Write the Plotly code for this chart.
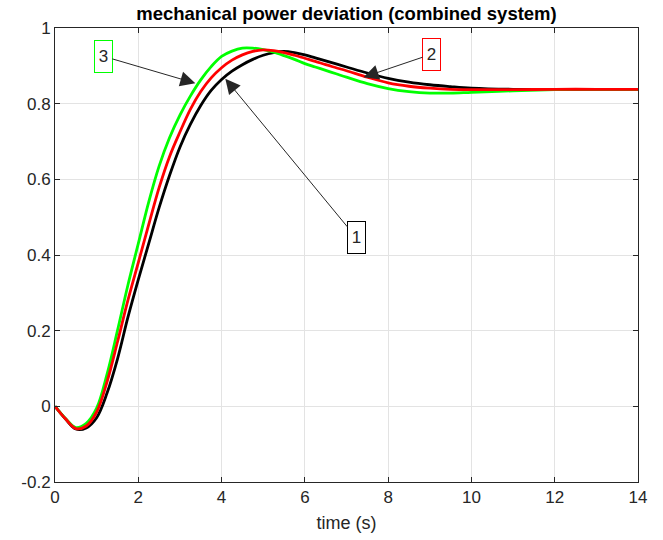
import plotly.graph_objects as go

# time grid (s)
t = [0, 0.25, 0.5, 0.75, 1.0, 1.25, 1.5, 1.75, 2.0, 2.25, 2.5, 2.75, 3.0, 3.25, 3.5,
     3.75, 4.0, 4.25, 4.5, 4.75, 5.0, 5.25, 5.5, 5.75, 6.0, 6.25, 6.5, 6.75, 7.0,
     7.5, 8.0, 8.5, 9.0, 9.5, 10, 11, 12, 13, 14]

# curve 1 (black)
p1 = [0, -0.033, -0.060, -0.057, -0.030, 0.035, 0.125, 0.235, 0.335, 0.43, 0.525, 0.61,
      0.685, 0.745, 0.795, 0.835, 0.864, 0.886, 0.903, 0.917, 0.928, 0.935, 0.938, 0.935,
      0.929, 0.921, 0.913, 0.905, 0.897,
      0.881, 0.867, 0.857, 0.850, 0.845, 0.841, 0.838, 0.838, 0.838, 0.838]
# curve 2 (red)
p2 = [0, -0.033, -0.059, -0.052, -0.015, 0.065, 0.17, 0.28, 0.38, 0.48, 0.578, 0.66,
      0.725, 0.785, 0.832, 0.868, 0.895, 0.915, 0.929, 0.938, 0.942, 0.940, 0.935, 0.928,
      0.920, 0.912, 0.903, 0.895, 0.887,
      0.870, 0.855, 0.846, 0.841, 0.838, 0.837, 0.837, 0.838, 0.838, 0.838]
# curve 3 (green)
p3 = [0, -0.032, -0.056, -0.045, -0.005, 0.085, 0.20, 0.32, 0.43, 0.54, 0.635, 0.71,
      0.77, 0.82, 0.863, 0.898, 0.925, 0.939, 0.947, 0.947, 0.943, 0.936, 0.927, 0.917,
      0.906, 0.897, 0.888, 0.879, 0.870,
      0.853, 0.840, 0.832, 0.828, 0.828, 0.830, 0.834, 0.837, 0.838, 0.838]

xticks = [0, 2, 4, 6, 8, 10, 12, 14]
xtick_text = ["0", "2", "4", "6", "8", "10", "12", "14"]
yticks = [-0.2, 0, 0.2, 0.4, 0.6, 0.8, 1]
ytick_text = ["-0.2", "0", "0.2", "0.4", "0.6", "0.8", "1"]

# labels: text, tip (t, value), border color
labels = ["1", "2", "3"]
label_tip_t = [4.09, 7.41, 3.37]
label_tip_v = [0.866, 0.870, 0.854]
label_colors = ["#000000", "#ff0000", "#00ff00"]
label_ax = [131, 68, -92]
label_ay = [159, -23, -27]

FONT = "Liberation Sans, Arial"

fig = go.Figure()
for y, c in [(p1, "#000000"), (p3, "#00ff00"), (p2, "#ff0000")]:
    fig.add_trace(go.Scatter(x=t, y=y, mode="lines",
                             line=dict(color=c, width=2.8, shape="spline", smoothing=1.0),
                             showlegend=False))

for txt, tx, tv, c, ax, ay in zip(labels, label_tip_t, label_tip_v, label_colors, label_ax, label_ay):
    fig.add_annotation(x=tx, y=tv, ax=ax, ay=ay, text=txt, showarrow=True,
                       arrowhead=2, arrowsize=3, arrowwidth=1, arrowcolor="#262626",
                       font=dict(family=FONT, size=17, color="#262626"),
                       width=11, height=25,
                       bordercolor=c, borderwidth=1, borderpad=3, bgcolor="white")

axis_common = dict(showline=True, linecolor="#262626", linewidth=1, mirror="ticks",
                   ticks="inside", ticklen=5, tickcolor="#262626",
                   showgrid=True, gridcolor="#e3e3e3", gridwidth=1, zeroline=False,
                   tickfont=dict(family=FONT, size=17, color="#262626"))

fig.update_xaxes(range=[0, 14], tickmode="array", tickvals=xticks, ticktext=xtick_text,
                 title=dict(text="time (s)", standoff=9,
                            font=dict(family=FONT, size=18, color="#262626")),
                 **axis_common)
fig.update_yaxes(range=[-0.2, 1], tickmode="array", tickvals=yticks, ticktext=ytick_text,
                 **axis_common)

fig.update_layout(
    width=663, height=540,
    margin=dict(l=55, r=25, t=28, b=58, autoexpand=False),
    paper_bgcolor="white", plot_bgcolor="white",
    title=dict(text="<b>mechanical power deviation (combined system)</b>",
               x=(55 + 638) / 2 / 663, xanchor="center", y=1 - 14 / 540, yanchor="middle",
               font=dict(family=FONT, size=18.5, color="#000000")),
)

fig.write_html("out.html")
